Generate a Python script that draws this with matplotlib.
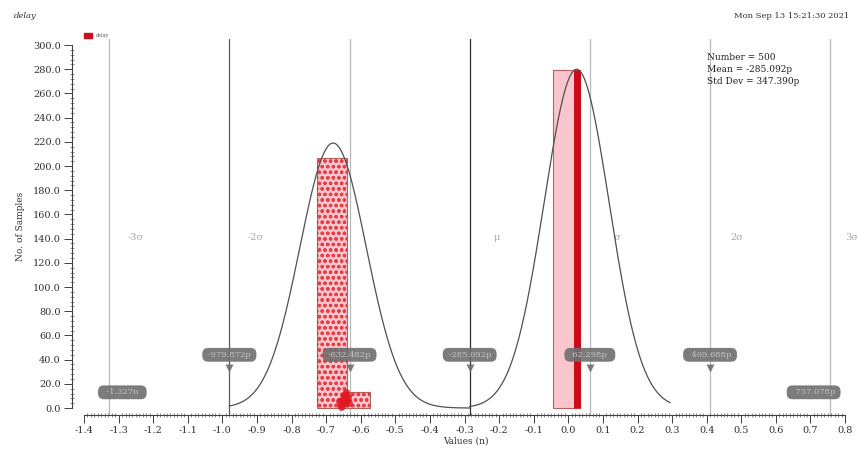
import matplotlib
matplotlib.use("Agg")
import matplotlib.pyplot as plt
import matplotlib.ticker as mtick
import numpy as np

# histogram bins (ns) and sample counts
bin_left = [-0.727, -0.641, -0.044]
bin_right = [-0.641, -0.572, 0.033]
bin_count = [207, 13, 279]

# gaussian fit drawn over each cluster
fit_mean = [-0.680, 0.024]
fit_sigma = [0.096, 0.094]
fit_peak = [219, 280]
fit_lo = [-0.980, -0.285]
fit_hi = [-0.285, 0.294]

# overall statistics (ns)
n_samples = 500
mean_ns = -0.285092
std_ns = 0.347390

sigma_k = [-3, -2, -1, 0, 1, 2, 3]
sigma_names = ["-3σ", "-2σ", "", "μ", "σ", "2σ", "3σ"]
marker_labels = ["-1.327n", "-979.872p", "-632.482p", "-285.092p",
                 "62.298p", "409.688p", "757.078p"]

# data points: right cluster sits on a single value
dense_x = 0.025
dense_n = 279
tail_x = [-0.655, -0.648, -0.641, -0.652, -0.637, -0.645, -0.660,
          -0.643, -0.650, -0.639, -0.647, -0.656, -0.642, -0.664, -0.633]
tail_y = [2, 4, 6, 8, 10, 12, 3, 5, 7, 9, 11, 1, 13, 6, 4]

plt.rcParams['font.family'] = ['DejaVu Serif']
plt.rcParams['axes.unicode_minus'] = False
plt.rcParams['hatch.linewidth'] = 0.9

fig = plt.figure(figsize=(8.59, 4.54), dpi=100)
ax = fig.add_axes([71.9 / 859, 39.3 / 454, 787 / 859, 375.7 / 454])
ax.set_xlim(-1.435, 0.84)
ax.set_ylim(-5.5, 305)

# sigma lines
line_col = {-2: '#5a5a5a', 0: '#2e2e2e'}
for k, name in zip(sigma_k, sigma_names):
    xv = mean_ns + k * std_ns
    ax.axvline(xv, color=line_col.get(k, '#b8b8b8'), lw=0.9, zorder=1)
    if name:
        lx = xv + 0.077
        ha = 'center'
        if lx > 0.82:
            lx, ha = 0.838, 'right'
        ax.text(lx, 141, name, color='#a8a8a8', fontsize=7,
                ha=ha, va='center', zorder=1)

# bars
widths = [r - l for l, r in zip(bin_left, bin_right)]
ax.bar(bin_left, bin_count, width=widths, align='edge', facecolor='#f8c6cc',
       edgecolor='#b86060', lw=0.8, zorder=2)
ax.bar(bin_left[:2], bin_count[:2], width=widths[:2], align='edge',
       facecolor='none', edgecolor=(0.88, 0.12, 0.16, 0.8), lw=0,
       hatch='ooo', zorder=3)
ax.scatter(tail_x, tail_y, s=26, color='#e01822', alpha=0.75, lw=0, zorder=4)
ax.vlines(dense_x, 0, dense_n, color='#cc0a18', lw=5, zorder=4)

# gaussian fits
for m, s, p, lo, hi in zip(fit_mean, fit_sigma, fit_peak, fit_lo, fit_hi):
    xs = np.linspace(lo, hi, 300)
    ax.plot(xs, p * np.exp(-0.5 * ((xs - m) / s) ** 2), color='#505050',
            lw=0.9, zorder=5)

# value callouts
for k, lab in zip(sigma_k, marker_labels):
    xv = mean_ns + k * std_ns
    if abs(k) == 3:
        bx = xv + (0.038 if k < 0 else -0.048)
        by = 13
    else:
        bx = xv
        by = 44
        ax.plot(xv, 33, marker='v', ms=6, color='#6e6e6e', alpha=0.9,
                mec='none', zorder=6)
    ax.text(bx, by, " " + lab.center(9) + " ", fontsize=6, color='#c4c4c4',
            ha='center', va='center', zorder=7,
            bbox=dict(boxstyle='round,pad=0.35,rounding_size=0.7',
                      fc='#6e6e6e', ec='none', alpha=0.9))

# axes styling
for side in ['top', 'right']:
    ax.spines[side].set_visible(False)
ax.spines['left'].set_bounds(0, 300)
ax.spines['bottom'].set_bounds(-1.4, 0.8)
for side in ['left', 'bottom']:
    ax.spines[side].set_color('#404040')
    ax.spines[side].set_linewidth(0.8)

ax.set_xticks(np.round(np.arange(-1.4, 0.81, 0.1), 2))
ax.xaxis.set_minor_locator(mtick.FixedLocator(np.round(np.arange(-1.4, 0.801, 0.01), 3)))
ax.xaxis.set_major_formatter(mtick.FormatStrFormatter('%.1f'))
ax.set_yticks(np.arange(0, 301, 20))
ax.yaxis.set_minor_locator(mtick.FixedLocator(np.arange(0, 301, 4)))
ax.yaxis.set_major_formatter(mtick.FormatStrFormatter('%.1f'))
ax.tick_params(which='major', length=6, width=0.7, color='#404040',
               labelsize=7, labelcolor='#303030', pad=2)
ax.tick_params(which='minor', length=3, width=0.5, color='#606060',
               direction='inout')

ax.set_xlabel("Values (n)", fontsize=6.5, color='#303030', labelpad=1)
ax.set_ylabel("No. of Samples", fontsize=6.5, color='#303030', labelpad=6)

# header texts
fig.text(14 / 859, 1 - 16 / 454, "delay", fontsize=6, style='italic',
         color='#303030', va='center')
fig.text(849 / 859, 1 - 16 / 454, "Mon Sep 13 15:21:30 2021", fontsize=6,
         color='#303030', ha='right', va='center')
fig.patches.append(plt.Rectangle((84 / 859, 1 - 38 / 454), 8 / 859, 5 / 454,
                                 transform=fig.transFigure, color='#cc1020'))
fig.text(96 / 859, 1 - 35.5 / 454, "delay", fontsize=3.5, color='#606060',
         va='center')

stats = "Number = %d\nMean = %.3fp\nStd Dev = %.3fp" % (
    n_samples, mean_ns * 1000, std_ns * 1000)
fig.text(707 / 859, 1 - 53 / 454, stats, fontsize=6.5, color='#202020',
         va='top', linespacing=1.45)

fig.savefig("out.png", dpi=100)
